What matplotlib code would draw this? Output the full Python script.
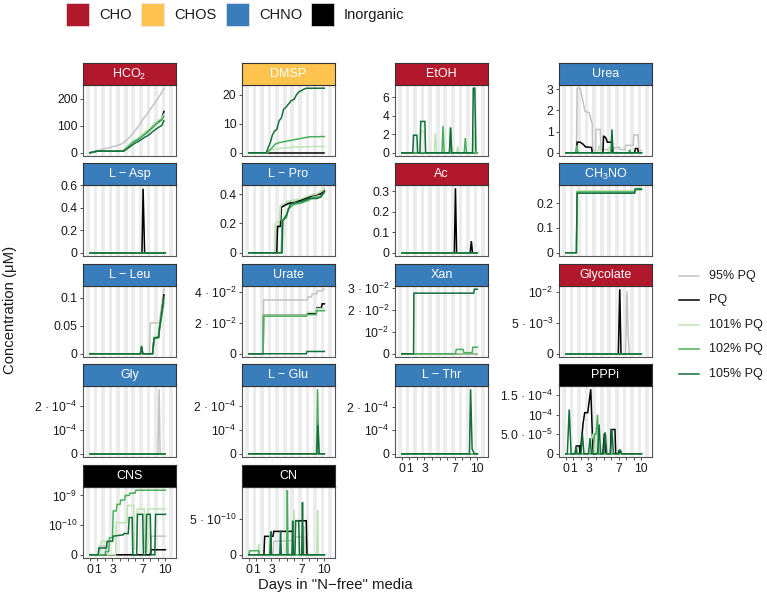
import numpy as np
import matplotlib
matplotlib.use("Agg")
import matplotlib.pyplot as plt
from matplotlib.patches import Rectangle
from matplotlib.lines import Line2D

plt.rcParams['font.family'] = ['Liberation Sans', 'DejaVu Sans']
plt.rcParams['mathtext.fontset'] = 'custom'
plt.rcParams['mathtext.rm'] = 'Liberation Sans'
plt.rcParams['mathtext.it'] = 'Liberation Sans:italic'
plt.rcParams['mathtext.bf'] = 'Liberation Sans:bold'

# ---- series / categories ----
series = ["95% PQ", "PQ", "101% PQ", "102% PQ", "105% PQ"]
series_colors = ["#c4c4c4", "#000000", "#bde5b3", "#4aaf5e", "#13703a"]
groups = ["CHO", "CHOS", "CHNO", "Inorganic"]
group_colors = ["#b2182b", "#fec44f", "#3a7dbb", "#000000"]

day_ticks = [0, 1, 2, 3, 4, 5, 6, 7, 8, 9, 10]
day_labels = ["0", "1", "", "3", "", "", "", "7", "", "", "10"]

Z = ([0, 10], [0, 0])

# ---- data: per panel, series -> (days, concentration) ----
HCO2 = {
    "95% PQ": ([0, 0.5, 1, 1.5, 2, 2.5, 3, 3.5, 4, 4.5, 5, 5.5, 6, 6.5, 7, 7.5, 8, 8.5, 9, 9.5, 9.8],
               [0, 3, 8, 12, 15, 18, 22, 26, 30, 38, 50, 65, 82, 100, 122, 140, 160, 180, 200, 222, 238]),
    "PQ": ([0, 0.5, 1, 4.4, 4.6, 5, 5.3, 5.6, 6, 6.3, 6.6, 7, 7.3, 7.6, 8, 8.3, 8.6, 9, 9.2, 9.5, 9.8],
           [0, 3, 6, 6, 12, 22, 30, 38, 45, 48, 55, 64, 70, 78, 88, 95, 108, 115, 118, 125, 152]),
    "101% PQ": ([0, 0.5, 1, 4.4, 4.6, 5, 5.3, 5.6, 6, 6.3, 6.6, 7, 7.3, 7.6, 8, 8.3, 8.6, 9, 9.2, 9.5, 9.8],
                [0, 3, 6, 6, 12, 24, 32, 40, 48, 52, 58, 68, 75, 82, 92, 100, 108, 118, 122, 128, 142]),
    "102% PQ": ([0, 0.5, 1, 4.4, 4.6, 5, 5.3, 5.6, 6, 6.3, 6.6, 7, 7.3, 7.6, 8, 8.3, 8.6, 9, 9.2, 9.5, 9.8],
                [0, 3, 6, 6, 10, 20, 28, 36, 44, 48, 54, 62, 68, 74, 84, 92, 100, 110, 114, 120, 135]),
    "105% PQ": ([0, 0.5, 1, 4.4, 4.6, 5, 5.3, 5.6, 6, 6.3, 6.6, 7, 7.3, 7.6, 8, 8.3, 8.6, 9, 9.2, 9.5, 9.8],
                [0, 3, 6, 6, 8, 16, 22, 28, 36, 40, 45, 52, 58, 62, 70, 78, 84, 92, 96, 100, 118]),
}
DMSP = {
    "PQ": Z,
    "101% PQ": ([0, 2.4, 3.0, 4, 6, 10], [0, 0, 1, 1.5, 2, 2.2]),
    "102% PQ": ([0, 2.4, 3.0, 3.5, 4.0, 5.0, 6.0, 7.0, 8.0, 10], [0, 0, 1.5, 3, 3.5, 4, 4.5, 5, 5.5, 5.6]),
    "105% PQ": ([0, 2.3, 2.6, 2.9, 3.1, 3.4, 3.7, 4.0, 4.3, 4.6, 5.0, 5.3, 5.6, 6.0, 6.3, 6.6, 7.0, 7.3, 7.6, 10],
                [0, 0, 2, 4, 6, 7.5, 8, 11, 12, 15, 16, 17, 18, 18.5, 20, 21, 21.5, 22, 22.3, 22.3]),
}
EtOH = {
    "95% PQ": Z,
    "PQ": Z,
    "101% PQ": ([0, 2.4, 2.5, 3.05, 3.15, 4.3, 4.43, 4.6, 7.25, 7.4, 7.55, 9.35, 9.5, 9.65, 10],
                [0, 0, 2.3, 2.3, 0, 0, 2.1, 0, 0, 0.7, 0, 0, 2.4, 0, 0]),
    "102% PQ": ([0, 5.3, 5.45, 5.6, 6.3, 6.45, 6.6, 8.25, 8.4, 8.55, 10],
                [0, 0, 2.9, 0, 0, 2.8, 0, 0, 1.6, 0, 0]),
    "105% PQ": ([0, 1.45, 1.55, 2.0, 2.1, 2.4, 2.5, 3.05, 3.15, 6.3, 6.45, 6.6, 9.35, 9.45, 9.65, 9.8],
                [0, 0, 1.9, 1.9, 0, 0, 3.4, 3.4, 0, 0, 2.7, 0, 0, 7.0, 7.0, 0.2]),
}
Urea = {
    "95% PQ": ([0, 1.4, 1.5, 1.9, 2.55, 3.1, 3.4, 3.5, 3.55, 3.95, 4.0, 4.55, 4.65, 6.3, 6.4, 7.1, 7.2, 7.85, 7.9, 8.9, 9.0, 9.55, 9.65, 10],
               [0, 0, 3.05, 3.05, 1.95, 1.9, 1.45, 1.4, 0.1, 0.1, 1.1, 1.1, 0.15, 0.15, 0.25, 0.25, 0.15, 0.15, 0.35, 0.35, 0.85, 0.85, 0.1, 0.1]),
    "PQ": ([0, 1.4, 1.5, 1.9, 2.3, 2.6, 3.4, 3.5, 4.9, 5.0, 5.3, 5.5, 6.1, 6.2, 9.1, 9.2, 9.5, 9.6, 10],
           [0, 0, 0.5, 0.5, 0.4, 0.28, 0.25, 0, 0, 0.8, 0.7, 0.5, 0.5, 0, 0, 0.2, 0.2, 0, 0]),
    "101% PQ": ([0, 1.3, 1.45, 1.6, 4.2, 4.4, 4.6, 5.6, 5.8, 6.0, 10], [0, 0, 0.25, 0, 0, 0.35, 0, 0, 0.3, 0, 0]),
    "102% PQ": ([0, 1.3, 1.45, 1.6, 8.3, 8.45, 8.6, 10], [0, 0, 0.35, 0, 0, 0.15, 0, 0]),
    "105% PQ": ([0, 6.0, 6.1, 6.25, 10], [0, 0, 1.1, 0, 0]),
}
L_Asp = {
    "95% PQ": Z,
    "PQ": ([0, 6.9, 7.05, 7.25, 10], [0, 0, 0.567, 0, 0]),
    "101% PQ": Z, "102% PQ": Z, "105% PQ": Z,
}
L_Pro = {
    "95% PQ": ([0, 3.5, 3.55, 4.0, 4.2, 5.0, 6.0, 7.0, 8.0, 8.5, 9.0, 9.5, 10],
               [0, 0, 0.15, 0.17, 0.32, 0.34, 0.35, 0.36, 0.38, 0.40, 0.40, 0.41, 0.43]),
    "PQ": ([0, 3.7, 3.8, 4.2, 4.3, 5, 5.5, 6, 7, 8, 8.5, 9.5, 10],
           [0, 0, 0.18, 0.18, 0.31, 0.33, 0.34, 0.34, 0.36, 0.38, 0.39, 0.40, 0.42]),
    "101% PQ": ([0, 3.4, 3.5, 4.1, 4.2, 5, 6, 7, 8, 9, 10],
                [0, 0, 0.2, 0.22, 0.32, 0.35, 0.36, 0.37, 0.39, 0.40, 0.44]),
    "102% PQ": ([0, 4.3, 4.4, 5.0, 5.2, 6, 7, 8, 8.5, 9.5, 10],
                [0, 0, 0.22, 0.24, 0.3, 0.33, 0.34, 0.36, 0.38, 0.38, 0.41]),
    "105% PQ": ([0, 4.4, 4.5, 5.0, 5.5, 6, 7, 8, 9, 9.5, 10],
                [0, 0, 0.22, 0.26, 0.33, 0.34, 0.35, 0.37, 0.37, 0.38, 0.42]),
}
Ac = {
    "95% PQ": Z,
    "PQ": ([0, 6.95, 7.1, 7.25, 9.05, 9.2, 9.35, 10], [0, 0, 0.315, 0, 0, 0.057, 0, 0]),
    "101% PQ": Z, "102% PQ": Z, "105% PQ": Z,
}
CH3NO = {
    "101% PQ": ([0, 1.4, 1.5, 9.1, 9.2, 10], [0, 0, 0.25, 0.25, 0.26, 0.26]),
    "102% PQ": ([0, 1.4, 1.5, 9.1, 9.2, 10], [0, 0, 0.245, 0.245, 0.258, 0.258]),
    "105% PQ": ([0, 1.4, 1.5, 9.1, 9.2, 10], [0, 0, 0.24, 0.24, 0.255, 0.255]),
}
L_Leu = {
    "95% PQ": ([0, 7.9, 8.0, 9.2, 9.8], [0, 0, 0.055, 0.055, 0.115]),
    "PQ": ([0, 6.7, 6.85, 7.0, 8.3, 8.5, 9.1, 9.2, 9.8], [0, 0, 0.012, 0, 0, 0.028, 0.03, 0.045, 0.105]),
    "101% PQ": ([0, 6.7, 6.85, 7.0, 8.3, 8.5, 9.1, 9.2, 9.8], [0, 0, 0.01, 0, 0, 0.03, 0.032, 0.05, 0.1]),
    "102% PQ": ([0, 6.7, 6.85, 7.0, 8.3, 8.5, 9.1, 9.2, 9.8], [0, 0, 0.01, 0, 0, 0.027, 0.028, 0.04, 0.092]),
    "105% PQ": ([0, 6.7, 6.85, 7.0, 8.3, 8.5, 9.1, 9.2, 9.8], [0, 0, 0.014, 0, 0, 0.028, 0.03, 0.045, 0.1]),
}
Urate = {
    "95% PQ": ([0, 1.9, 1.95, 7.7, 7.8, 8.3, 8.4, 9.0, 9.1, 9.7, 9.8, 10],
               [0, 0, 0.035, 0.035, 0.037, 0.037, 0.039, 0.039, 0.041, 0.041, 0.042, 0.042]),
    "PQ": ([0, 1.9, 1.95, 7.6, 7.7, 8.9, 9.0, 9.6, 9.7, 10],
           [0, 0, 0.025, 0.025, 0.026, 0.026, 0.03, 0.03, 0.0325, 0.0325]),
    "101% PQ": ([0, 1.9, 1.95, 7.6, 7.7, 8.9, 9.0, 10], [0, 0, 0.025, 0.025, 0.027, 0.027, 0.0295, 0.0295]),
    "102% PQ": ([0, 1.9, 1.95, 7.6, 7.7, 8.9, 9.0, 10], [0, 0, 0.0245, 0.0245, 0.0255, 0.0255, 0.028, 0.028]),
    "105% PQ": ([0, 7.6, 7.7, 10], [0, 0, 0.0015, 0.0015]),
}
Xan = {
    "PQ": Z,
    "101% PQ": Z,
    "102% PQ": ([0, 7.1, 7.2, 8.1, 8.2, 9.3, 9.4, 10], [0, 0, 0.002, 0.002, 0.0005, 0.0005, 0.003, 0.003]),
    "105% PQ": ([0, 1.55, 1.6, 9.5, 9.6, 10], [0, 0, 0.0277, 0.0277, 0.0295, 0.0295]),
}
Glycolate = {
    "95% PQ": ([0, 7.9, 8.1, 8.25, 8.4, 10], [0, 0, 0.0102, 0.003, 0, 0]),
    "PQ": ([0, 6.95, 7.14, 7.3, 10], [0, 0, 0.0105, 0, 0]),
    "101% PQ": Z, "102% PQ": Z, "105% PQ": Z,
}
Gly = {
    "95% PQ": ([0, 9.0, 9.17, 9.3, 10], [0, 0, 2.7e-4, 0, 0]),
    "PQ": Z, "101% PQ": Z, "102% PQ": Z, "105% PQ": Z,
}
L_Glu = {
    "95% PQ": Z, "PQ": Z, "101% PQ": Z,
    "102% PQ": ([0, 8.95, 9.1, 9.25, 10], [0, 0, 2.7e-4, 0, 0]),
    "105% PQ": ([0, 9.0, 9.15, 9.3, 10], [0, 0, 1.2e-4, 0, 0]),
}
L_Thr = {
    "95% PQ": Z, "PQ": Z, "101% PQ": Z, "102% PQ": Z,
    "105% PQ": ([0, 8.95, 9.1, 9.3, 9.6, 10], [0, 0, 2.75e-4, 2e-5, 0, 0]),
}
PPPi = {
    "95% PQ": ([0, 3.3, 3.6, 3.9, 5.1, 5.3, 5.5, 10], [0, 0, 1.5e-5, 0, 0, 5e-5, 0, 0]),
    "PQ": ([0, 1.3, 1.4, 1.8, 1.9, 2.3, 2.5, 2.9, 3.3, 3.6, 4.9, 5.1, 5.3, 5.9, 6.0, 6.5, 6.6, 6.9, 7.1, 7.4, 10],
           [0, 0, 2e-5, 2e-5, 0, 8e-5, 1.05e-4, 1.05e-4, 1.65e-4, 0, 0, 5.2e-5, 0, 0, 6.2e-5, 6.2e-5, 0, 0, 1e-5, 0, 0]),
    "101% PQ": ([0, 3.0, 3.3, 3.6, 3.9, 4.1, 10], [0, 0, 3e-5, 5e-5, 5e-5, 0, 0]),
    "102% PQ": ([0, 3.6, 3.8, 4.0, 4.2, 4.35, 4.5, 10], [0, 0, 5e-5, 5e-5, 1.0e-4, 0, 0, 0]),
    "105% PQ": ([0, 0.2, 0.45, 0.7, 1.2, 1.35, 1.5, 2.0, 2.2, 2.4, 3.0, 3.2, 3.4, 4.2, 4.4, 4.6, 5.0, 5.2, 5.4, 5.9, 6.1, 6.3, 7.0, 7.2, 7.4, 10],
                [0, 0, 1.13e-4, 0, 0, 2e-5, 0, 0, 5e-5, 0, 0, 4e-5, 0, 0, 7.5e-5, 0, 0, 5.5e-5, 0, 0, 6.2e-5, 0, 0, 1e-5, 0, 0]),
}
CNS = {
    "95% PQ": ([0, 1.2, 1.3, 2.0, 2.1, 8.0, 8.1, 10], [0, 0, 1.5e-11, 1.5e-11, 0, 0, 4e-11, 4e-11]),
    "PQ": ([0, 8.0, 8.1, 10], [0, 0, 8e-12, 8e-12]),
    "101% PQ": ([0, 1.4, 1.5, 2.2, 2.3, 3.4, 3.5, 4.9, 5.0, 5.8, 5.9, 6.2, 6.3, 7.2, 7.3, 7.6, 7.7, 10],
                [0, 0, 2.5e-11, 2.5e-11, 0, 0, 1.2e-10, 1.2e-10, 4.6e-10, 4.6e-10, 1e-11, 1e-11, 3.5e-10, 3.5e-10, 5e-12, 5e-12, 3.5e-10, 3.5e-10]),
    "102% PQ": ([0, 2.0, 2.1, 2.5, 2.6, 3.0, 3.1, 3.5, 3.6, 4.0, 4.1, 4.6, 4.7, 5.2, 5.3, 6.0, 6.1, 10],
                [0, 0, 5e-12, 5e-12, 3.5e-11, 3.5e-11, 3e-10, 3e-10, 5e-10, 5e-10, 7e-10, 7e-10, 1.0e-9, 1.0e-9, 1.2e-9, 1.2e-9, 1.5e-9, 1.5e-9]),
    "105% PQ": ([0, 1.1, 1.2, 2.2, 2.3, 3.0, 3.1, 4.4, 4.5, 5.1, 5.2, 5.6, 5.7, 6.2, 6.3, 7.0, 7.1, 7.4, 7.5, 8.0, 8.1, 8.6, 8.7, 10],
                [0, 0, 1.1e-11, 1.1e-11, 2.5e-11, 2.5e-11, 4e-11, 4.5e-11, 5e-11, 5e-11, 1.8e-10, 1.8e-10, 0, 0, 2.3e-10, 2.3e-10, 0, 0, 2.3e-10, 2.3e-10, 0, 0, 2.3e-10, 2.3e-10]),
}
CN = {
    "95% PQ": ([0, 3.2, 3.3, 6.0, 6.1, 7.5, 7.6, 10], [0, 0, 1.9e-10, 2e-10, 2.5e-10, 2.5e-10, 0, 0]),
    "PQ": ([0, 2.0, 2.1, 3.2, 3.3, 5.9, 6.0, 7.6, 7.7, 10], [0, 0, 2.6e-10, 2.6e-10, 3.3e-10, 3.3e-10, 4.8e-10, 4.8e-10, 0, 0]),
    "101% PQ": ([0, 1.2, 1.3, 1.4, 2.7, 2.8, 2.9, 5.9, 6.0, 6.1, 7.2, 7.3, 7.4, 9.0, 9.1, 9.2, 10],
                [0, 0, 1.5e-10, 0, 0, 2.8e-10, 0, 0, 6.3e-10, 0, 0, 4e-10, 0, 0, 6.3e-10, 0, 0]),
    "102% PQ": ([0, 0.1, 1.3, 1.4, 5.0, 5.1, 5.2, 10], [0, 5.7e-11, 5.7e-11, 0, 0, 9.1e-10, 0, 0]),
    "105% PQ": ([0, 2.8, 2.9, 3.0, 4.1, 4.2, 4.3, 5.7, 5.8, 5.9, 6.1, 6.2, 6.6, 6.7, 7.0, 7.1, 7.2, 10],
                [0, 0, 3.3e-10, 0, 0, 3.4e-10, 0, 0, 4.8e-10, 0, 0, 4.8e-10, 4.8e-10, 0, 0, 7.4e-10, 0, 0]),
}

# panel: title, group, data, y ticks, y tick labels, pseudo-log?
panels = [
    ("HCO$_2$", "CHO", HCO2, [0, 100, 200], ["0", "100", "200"], False),
    ("DMSP", "CHOS", DMSP, [0, 10, 20], ["0", "10", "20"], False),
    ("EtOH", "CHO", EtOH, [0, 2, 4, 6], ["0", "2", "4", "6"], False),
    ("Urea", "CHNO", Urea, [0, 1, 2, 3], ["0", "1", "2", "3"], False),
    ("L \u2212 Asp", "CHNO", L_Asp, [0, 0.2, 0.4, 0.6], ["0", "0.2", "0.4", "0.6"], False),
    ("L \u2212 Pro", "CHNO", L_Pro, [0, 0.2, 0.4], ["0", "0.2", "0.4"], False),
    ("Ac", "CHO", Ac, [0, 0.1, 0.2, 0.3], ["0", "0.1", "0.2", "0.3"], False),
    ("CH$_3$NO", "CHNO", CH3NO, [0, 0.1, 0.2], ["0", "0.1", "0.2"], False),
    ("L \u2212 Leu", "CHNO", L_Leu, [0, 0.05, 0.1], ["0", "0.05", "0.1"], False),
    ("Urate", "CHNO", Urate, [0, 0.02, 0.04], ["0", "2 \u00b7 10$^{-2}$", "4 \u00b7 10$^{-2}$"], False),
    ("Xan", "CHNO", Xan, [0, 0.01, 0.02, 0.03], ["0", "10$^{-2}$", "2 \u00b7 10$^{-2}$", "3 \u00b7 10$^{-2}$"], False),
    ("Glycolate", "CHO", Glycolate, [0, 0.005, 0.01], ["0", "5 \u00b7 10$^{-3}$", "10$^{-2}$"], False),
    ("Gly", "CHNO", Gly, [0, 1e-4, 2e-4], ["0", "10$^{-4}$", "2 \u00b7 10$^{-4}$"], False),
    ("L \u2212 Glu", "CHNO", L_Glu, [0, 1e-4, 2e-4], ["0", "10$^{-4}$", "2 \u00b7 10$^{-4}$"], False),
    ("L \u2212 Thr", "CHNO", L_Thr, [0, 1e-4, 2e-4], ["0", "10$^{-4}$", "2 \u00b7 10$^{-4}$"], False),
    ("PPPi", "Inorganic", PPPi, [0, 5e-5, 1e-4, 1.5e-4],
     ["0", "5.0 \u00b7 10$^{-5}$", "10$^{-4}$", "1.5 \u00b7 10$^{-4}$"], False),
    ("CNS", "Inorganic", CNS, [0, 1e-10, 1e-9], ["0", "10$^{-10}$", "10$^{-9}$"], True),
    ("CN", "Inorganic", CN, [0, 5e-10], ["0", "5 \u00b7 10$^{-10}$"], False),
]
bottom_panels = {"CNS", "CN", "L \u2212 Thr", "PPPi"}

# ---- layout (pixels) ----
W, H = 767, 598
col_left = [83, 242, 395, 559]
row_top = [85, 185, 286, 386, 487]
pw, ph, sh = 93, 71, 22
sig = 1e-11
tick_fs = 8.8

fig = plt.figure(figsize=(W / 100, H / 100), dpi=100)

def frac(x, y, w, h):
    return [x / W, 1 - (y + h) / H, w / W, h / H]

for i, (title, grp, data, yt, ytl, plog) in enumerate(panels):
    r, c = divmod(i, 4)
    ax = fig.add_axes(frac(col_left[c], row_top[r], pw, ph))
    # day/night background stripes
    for d in range(-1, 12):
        ax.axvspan(d - 0.5, d, color="#ececec", lw=0, zorder=0)
    for s, col in zip(series, series_colors):
        if s in data:
            xs, ys = data[s]
            ax.plot(xs, ys, color=col, lw=1.1, zorder=2, solid_joinstyle="miter")
    allv = np.concatenate([np.asarray(data[s][1], float) for s in data])
    if plog:
        fwd = lambda y: np.arcsinh(np.asarray(y) / (2 * sig))
        inv = lambda t: 2 * sig * np.sinh(np.asarray(t))
        ax.set_yscale("function", functions=(fwd, inv))
        tlo, thi = fwd(allv.min()), fwd(allv.max())
        pad = 0.05 * (thi - tlo)
        ax.set_ylim(inv(tlo - pad), inv(thi + pad))
    else:
        lo, hi = allv.min(), allv.max()
        pad = 0.05 * (hi - lo)
        ax.set_ylim(lo - pad, hi + pad)
    ax.set_xlim(-0.9, 11.4)
    ax.set_yticks(yt)
    ax.set_yticklabels(ytl)
    ax.minorticks_off()
    ax.tick_params(axis="y", length=2.5, width=0.6, color="#333333", labelsize=tick_fs,
                   labelcolor="#1a1a1a", pad=1.5)
    if title in bottom_panels:
        ax.set_xticks(day_ticks)
        ax.set_xticklabels(day_labels)
        ax.tick_params(axis="x", length=2.5, width=0.6, color="#333333", labelsize=tick_fs,
                       labelcolor="#1a1a1a", pad=1.5)
    else:
        ax.set_xticks([])
    for sp in ax.spines.values():
        sp.set_color("#555555")
        sp.set_linewidth(0.8)
    # facet strip
    sax = fig.add_axes(frac(col_left[c], row_top[r] - sh, pw, sh))
    sax.set_facecolor(group_colors[groups.index(grp)])
    sax.set_xticks([])
    sax.set_yticks([])
    for sp in sax.spines.values():
        sp.set_color("#333333")
        sp.set_linewidth(0.8)
    sax.text(0.5, 0.48, title, color="white", fontsize=9, ha="center", va="center",
             transform=sax.transAxes)

# ---- top legend (categories) ----
leg_x = [66, 141, 226, 311]
for x, g, col in zip(leg_x, groups, group_colors):
    fig.add_artist(Rectangle((x / W, 1 - 26 / H), 23 / W, 23 / H, facecolor=col,
                             edgecolor="#e8e8e8", lw=0.5, transform=fig.transFigure))
    fig.text((x + 33) / W, 1 - 15 / H, g, fontsize=10.5, ha="left", va="center", color="#1a1a1a")

# ---- right legend (series) ----
leg_y = [276, 300, 325, 349, 374]
for y, s, col in zip(leg_y, series, series_colors):
    fig.add_artist(Line2D([679 / W, 699 / W], [1 - y / H, 1 - y / H], color=col, lw=1.1,
                          transform=fig.transFigure))
    fig.text(709 / W, 1 - y / H, s, fontsize=9, ha="left", va="center", color="#1a1a1a")

fig.text(10 / W, 1 - 310 / H, "Concentration (\u03bcM)", rotation=90, fontsize=10.7,
         ha="center", va="center", color="#1a1a1a")
fig.text(335 / W, 1 - 585 / H, "Days in \"N\u2212free\" media", fontsize=10.7,
         ha="center", va="center", color="#1a1a1a")

fig.savefig("out.png", dpi=100)
